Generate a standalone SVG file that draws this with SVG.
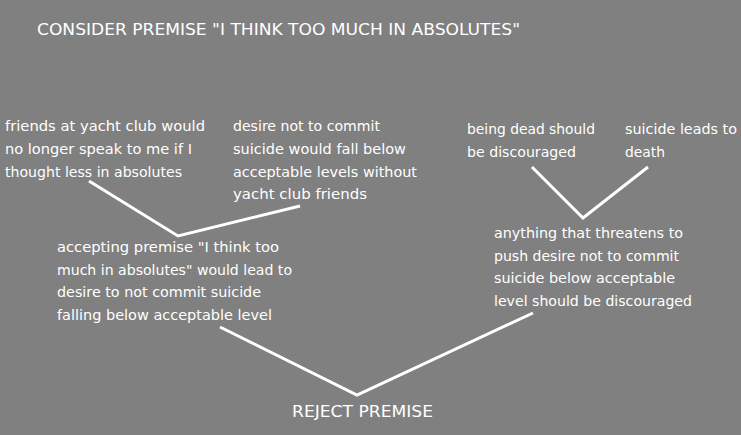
<svg xmlns="http://www.w3.org/2000/svg" width="741" height="435" viewBox="0 0 741 435">
<style>
text{font-family:"DejaVu Sans","Liberation Sans",sans-serif;font-size:14px;fill:#ffffff}
.cap{font-size:16px}
.ln{stroke:#ffffff;stroke-width:3;fill:none;stroke-linejoin:miter}
</style>
<rect x="0" y="0" width="741" height="435" fill="#808080"/>
<g id="connectors">
<polyline class="ln" points="89,181 178,236 300,206"/>
<polyline class="ln" points="532,167 583,218 648,167"/>
<polyline class="ln" points="220,327 357,395 533,313"/>
</g>
<g id="title">
<text class="cap" x="37" y="35" textLength="483" lengthAdjust="spacingAndGlyphs">CONSIDER PREMISE "I THINK TOO MUCH IN ABSOLUTES"</text>
</g>
<g id="node-friends">
<text x="5" y="131" textLength="200" lengthAdjust="spacingAndGlyphs">friends at yacht club would</text>
<text x="5" y="154" textLength="187" lengthAdjust="spacingAndGlyphs">no longer speak to me if I</text>
<text x="5" y="177" textLength="177" lengthAdjust="spacingAndGlyphs">thought less in absolutes</text>
</g>
<g id="node-desire">
<text x="233" y="131" textLength="147" lengthAdjust="spacingAndGlyphs">desire not to commit</text>
<text x="233" y="154" textLength="173" lengthAdjust="spacingAndGlyphs">suicide would fall below</text>
<text x="233" y="177" textLength="184" lengthAdjust="spacingAndGlyphs">acceptable levels without</text>
<text x="233" y="199" textLength="134" lengthAdjust="spacingAndGlyphs">yacht club friends</text>
</g>
<g id="node-dead">
<text x="467" y="134" textLength="128" lengthAdjust="spacingAndGlyphs">being dead should</text>
<text x="467" y="157" textLength="109" lengthAdjust="spacingAndGlyphs">be discouraged</text>
</g>
<g id="node-suicide-death">
<text x="625" y="134" textLength="112" lengthAdjust="spacingAndGlyphs">suicide leads to</text>
<text x="625" y="157" textLength="40" lengthAdjust="spacingAndGlyphs">death</text>
</g>
<g id="node-accepting">
<text x="57" y="252" textLength="222" lengthAdjust="spacingAndGlyphs">accepting premise "I think too</text>
<text x="57" y="275" textLength="235" lengthAdjust="spacingAndGlyphs">much in absolutes" would lead to</text>
<text x="57" y="297" textLength="204" lengthAdjust="spacingAndGlyphs">desire to not commit suicide</text>
<text x="57" y="320" textLength="215" lengthAdjust="spacingAndGlyphs">falling below acceptable level</text>
</g>
<g id="node-anything">
<text x="494" y="238" textLength="189" lengthAdjust="spacingAndGlyphs">anything that threatens to</text>
<text x="494" y="261" textLength="185" lengthAdjust="spacingAndGlyphs">push desire not to commit</text>
<text x="494" y="283" textLength="181" lengthAdjust="spacingAndGlyphs">suicide below acceptable</text>
<text x="494" y="306" textLength="198" lengthAdjust="spacingAndGlyphs">level should be discouraged</text>
</g>
<g id="node-reject">
<text class="cap" x="292" y="417" font-size="14" textLength="141" lengthAdjust="spacingAndGlyphs">REJECT PREMISE</text>
</g>
</svg>
